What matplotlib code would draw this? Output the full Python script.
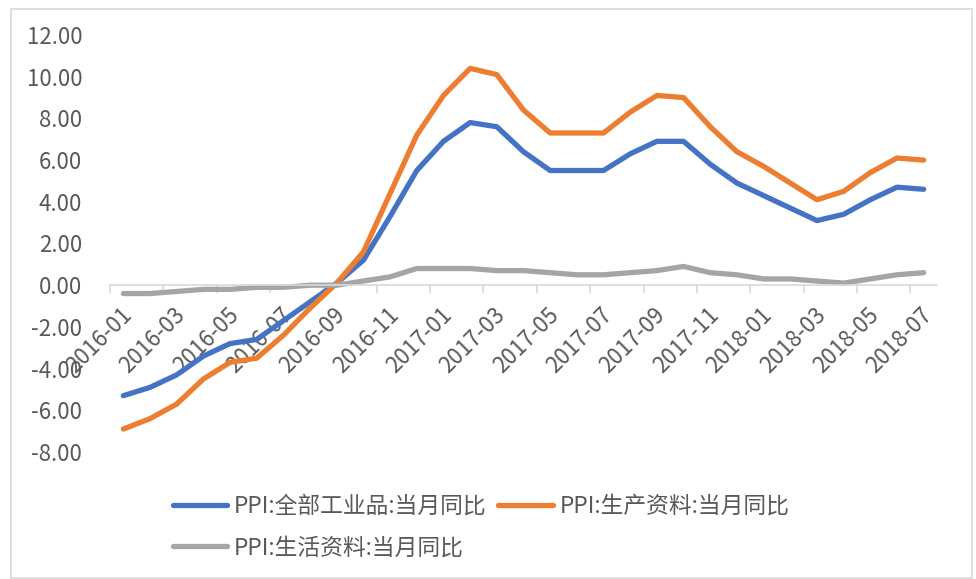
import matplotlib.pyplot as plt
from matplotlib.patches import Rectangle
from matplotlib.transforms import ScaledTranslation

plt.rcParams['font.family'] = ['Noto Sans CJK SC', 'DejaVu Sans']

# 月份 2016-01 .. 2018-07
months = []
for y in (2016, 2017, 2018):
    for m in range(1, 13):
        if y == 2018 and m > 7:
            break
        months.append(f"{y}-{m:02d}")

ppi_all = [-5.3, -4.9, -4.3, -3.4, -2.8, -2.6, -1.7, -0.8, 0.1, 1.2, 3.3, 5.5,
           6.9, 7.8, 7.6, 6.4, 5.5, 5.5, 5.5, 6.3, 6.9, 6.9, 5.8, 4.9,
           4.3, 3.7, 3.1, 3.4, 4.1, 4.7, 4.6]
ppi_prod = [-6.9, -6.4, -5.7, -4.5, -3.7, -3.5, -2.4, -1.1, 0.1, 1.6, 4.4, 7.2,
            9.1, 10.4, 10.1, 8.4, 7.3, 7.3, 7.3, 8.3, 9.1, 9.0, 7.6, 6.4,
            5.7, 4.9, 4.1, 4.5, 5.4, 6.1, 6.0]
ppi_life = [-0.4, -0.4, -0.3, -0.2, -0.2, -0.1, -0.1, 0.0, 0.0, 0.2, 0.4, 0.8,
            0.8, 0.8, 0.7, 0.7, 0.6, 0.5, 0.5, 0.6, 0.7, 0.9, 0.6, 0.5,
            0.3, 0.3, 0.2, 0.1, 0.3, 0.5, 0.6]

labels = ["PPI:全部工业品:当月同比", "PPI:生产资料:当月同比", "PPI:生活资料:当月同比"]
colors = ["#4472C4", "#ED7D31", "#A5A5A5"]
text_color = "#595959"

W, H = 976, 579
fig = plt.figure(figsize=(W / 100, H / 100), dpi=100)
ax = fig.add_axes([110 / W, 1 - 452 / H, (937 - 110) / W, (452 - 35) / H])

x = list(range(len(months)))
lines = []
for data, lab, c in zip([ppi_all, ppi_prod, ppi_life], labels, colors):
    ln, = ax.plot(x, data, color=c, lw=3.8, label=lab,
                  solid_joinstyle='round', solid_capstyle='round')
    lines.append(ln)

ax.set_xlim(-0.5, len(months) - 0.5)
ax.set_ylim(-8, 12)
ax.set_yticks(range(-8, 13, 2))
ax.set_yticklabels([f"{v:.2f}" for v in range(-8, 13, 2)])
ax.tick_params(axis='y', length=0, pad=20, labelsize=16, labelcolor=text_color)

# x 轴在 0 处
for s in ('left', 'top', 'right'):
    ax.spines[s].set_visible(False)
ax.spines['bottom'].set_position(('data', 0))
ax.spines['bottom'].set_color('#D9D9D9')
ax.spines['bottom'].set_linewidth(1.2)

ax.set_xticks(x[::2])
ax.set_xticklabels(months[::2], rotation=45, ha='right', va='center',
                   rotation_mode='anchor')
ax.set_xticks([i - 0.5 for i in x[::2]], minor=True)
ax.tick_params(axis='x', which='major', length=0, pad=19, labelsize=16,
               labelcolor=text_color)
ax.tick_params(axis='x', which='minor', length=6, width=1.2, color='#D9D9D9',
               direction='out')
shift = ScaledTranslation(5 / 100, 0, fig.dpi_scale_trans)
for t in ax.get_xticklabels():
    t.set_transform(t.get_transform() + shift)

# 图例
fig.legend([lines[0], lines[2], lines[1]], [labels[0], labels[2], labels[1]],
           ncol=2, loc='center', bbox_to_anchor=(481 / W, 1 - 527 / H),
           frameon=False, fontsize=16.4, labelcolor=text_color,
           handlelength=2.4, handletextpad=0.3, columnspacing=0.5,
           labelspacing=0.8)

# 图表外框
fig.patches.append(Rectangle((11 / W, 0.002), (972 - 11) / W, 1 - 9 / H - 0.002,
                             transform=fig.transFigure, fill=False,
                             edgecolor='#D9D9D9', lw=1.2))

fig.savefig('out.png', dpi=100)
